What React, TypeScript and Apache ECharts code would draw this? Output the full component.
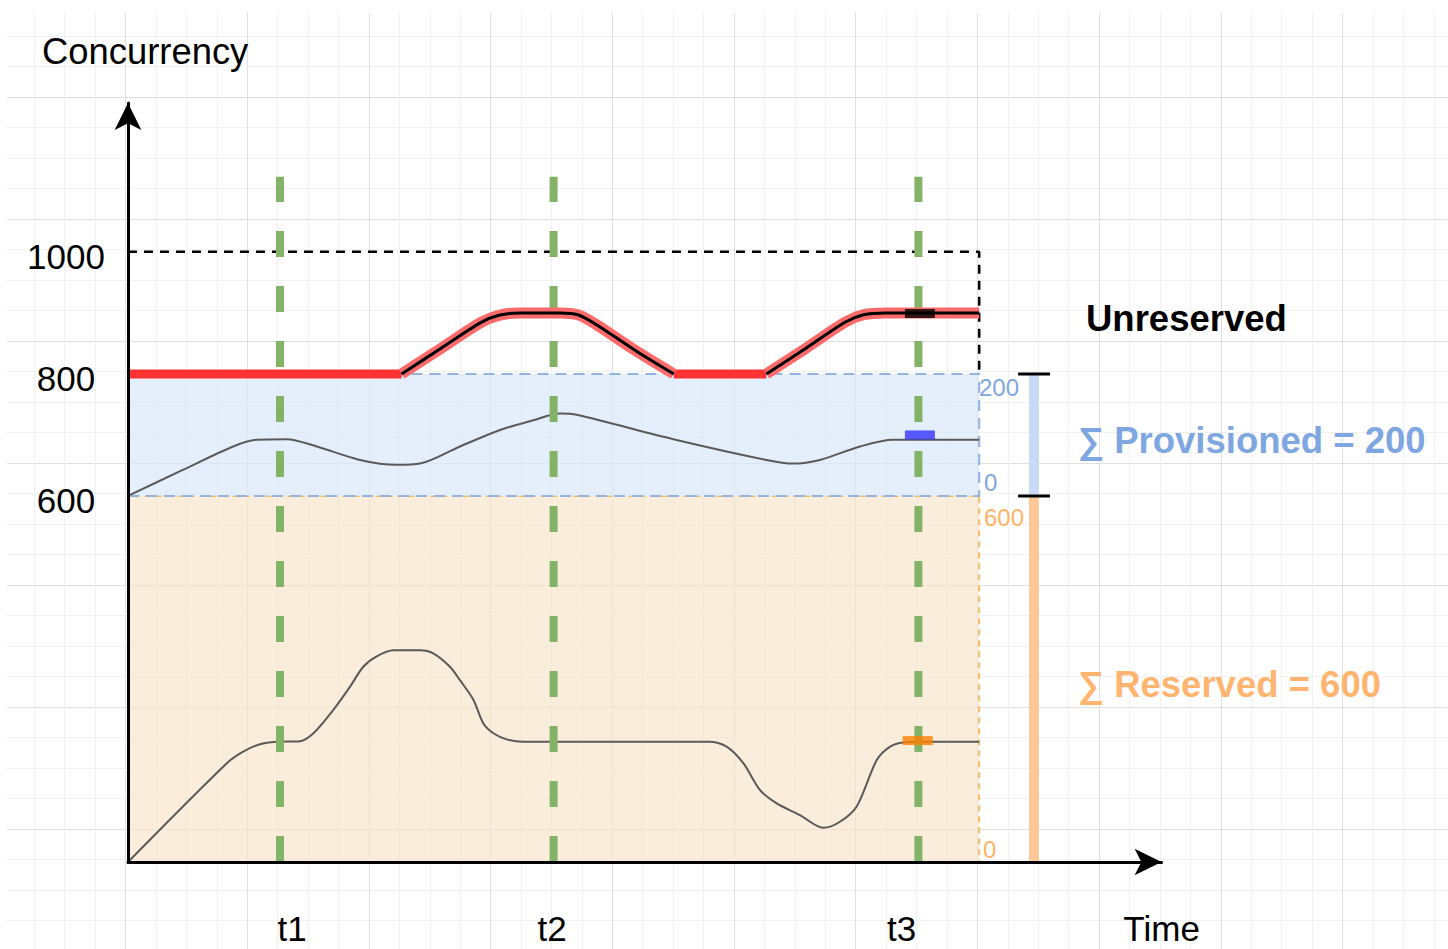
import React, { useEffect, useRef } from "react";
import * as echarts from "echarts";

// ---- data (x in time units, y in concurrency) ----
const yTickValues = [600, 800, 1000];
const timeMarks = [5, 14, 26]; // t1, t2, t3 dashed markers
const timeLabels = ["t1", "t2", "t3", "Time"];
const timeLabelX = [5.4, 13.95, 25.45, 34];
const concurrencyLimit = 1000;
const dataEnd = 28;
const reservedTotal = 600;
const provisionedTotal = 200;
const markerTop = 1123;

const totalFlat1 = [[0, 800], [9, 800]];
const totalFlat2 = [[17.95, 800], [21, 800]];
const totalCurve1 = [
  [9, 800], [10.3, 842], [11.6, 884], [12.2, 896], [12.9, 900], [14.2, 900],
  [14.8, 897], [15.4, 881], [16.7, 838], [17.95, 800],
];
const totalCurve2 = [
  [21, 800], [22.3, 842], [23.6, 885], [24.2, 897], [24.9, 900], [28, 900],
];
const provisionedUsage = [
  [0, 600], [1.82, 643], [3.46, 681], [4.23, 692], [5.22, 693], [6.21, 681],
  [7.63, 659], [8.84, 651], [9.61, 653], [10.92, 681], [12.24, 708], [13.33, 724],
  [14.21, 735], [14.76, 733], [17.94, 693], [21.0, 659], [21.88, 653], [22.76, 659],
  [24.08, 681], [25.17, 692], [28, 692],
];
const reservedUsage = [
  [0, 0], [3.25, 162], [3.79, 181], [4.34, 193], [4.89, 197], [5.66, 198],
  [6.1, 211], [6.75, 249], [7.3, 287], [7.74, 320], [8.18, 337], [8.73, 347],
  [9.61, 347], [10.04, 342], [10.59, 320], [10.92, 298], [11.36, 266], [11.69, 227],
  [12.02, 211], [12.46, 201], [13.0, 197], [19.1, 197], [19.69, 189], [20.24, 162],
  [20.79, 118], [21.34, 96], [22.1, 77], [22.87, 56], [23.42, 66], [23.97, 91],
  [24.63, 167], [25.07, 189], [25.5, 196], [26.2, 197], [28, 197],
];
const markerUnreserved = [26.05, 899];
const markerProvisioned = [26.05, 700];
const markerReserved = [25.98, 199];
const bracketX = 29.8;
const bracketTickFrom = 29.28;
const bracketTickTo = 30.33;

const FONT = '"Liberation Sans", Arial, Helvetica, sans-serif';

export default function App() {
  const ref = useRef<HTMLDivElement | null>(null);

  useEffect(() => {
    if (!ref.current) return;
    const chart = echarts.init(ref.current, undefined, { renderer: "svg" });

    const base = {
      type: "line",
      xAxisIndex: 0,
      yAxisIndex: 0,
      symbol: "none",
      silent: true,
      animation: false,
    };

    const greenSeries = timeMarks.map((t) => ({
      ...base,
      name: "mark-" + t,
      data: [[t, 0], [t, markerTop]],
      lineStyle: { color: "#82b366", width: 8, type: [26, 29], cap: "butt" },
      z: 4,
    }));

    const option: any = {
      animation: false,
      backgroundColor: "#ffffff",
      textStyle: { fontFamily: FONT },
      grid: [
        { left: 128, right: 1448 - 1161.6, top: 103, bottom: 87 },
        { left: 3.8, right: 0, top: -25, bottom: 0, outerBoundsMode: "none", containLabel: false },
      ],
      xAxis: [
        {
          type: "value",
          gridIndex: 0,
          min: 0,
          max: 34,
          z: 10,
          axisLine: {
            show: true,
            onZero: false,
            lineStyle: { color: "#000", width: 3 },
            symbol: ["none", "arrow"],
            symbolSize: [20, 27],
            symbolOffset: [0, 0],
          },
          axisTick: { show: false },
          splitLine: { show: false },
          axisLabel: {
            show: true,
            customValues: timeLabelX,
            formatter: (v: number) => {
              const i = timeLabelX.findIndex((x) => Math.abs(x - v) < 1e-6);
              return i >= 0 ? timeLabels[i] : "";
            },
            fontSize: 35,
            color: "#000",
            fontFamily: FONT,
            margin: 66,
            verticalAlign: "middle",
            showMinLabel: true,
            showMaxLabel: true,
          },
        },
        {
          type: "value",
          gridIndex: 1,
          min: 0,
          max: 1444.2,
          interval: 121.7,
          axisLine: { show: false },
          axisTick: { show: false },
          axisLabel: { show: false },
          splitLine: { show: true, lineStyle: { color: "#dfdfdf", width: 1 } },
          minorTick: { show: false, splitNumber: 4 },
          minorSplitLine: { show: true, lineStyle: { color: "#f1f1f1", width: 1 } },
        },
      ],
      yAxis: [
        {
          type: "value",
          gridIndex: 0,
          min: 0,
          max: 1244,
          z: 10,
          axisLine: {
            show: true,
            onZero: false,
            lineStyle: { color: "#000", width: 3 },
            symbol: ["none", "arrow"],
            symbolSize: [20, 27],
            symbolOffset: [0, 0],
          },
          axisTick: { show: false },
          splitLine: { show: false },
          axisLabel: {
            show: true,
            customValues: yTickValues,
            formatter: (v: number) => String(v),
            fontSize: 35,
            color: "#000",
            fontFamily: FONT,
            margin: 62,
            align: "center",
            verticalAlign: "top",
            lineHeight: 10,
          },
        },
        {
          type: "value",
          gridIndex: 1,
          inverse: true,
          min: 0,
          max: 974,
          interval: 122,
          axisLine: { show: false },
          axisTick: { show: false },
          axisLabel: { show: false },
          splitLine: { show: true, lineStyle: { color: "#dfdfdf", width: 1 } },
          minorTick: { show: false, splitNumber: 4 },
          minorSplitLine: { show: true, lineStyle: { color: "#f1f1f1", width: 1 } },
        },
      ],
      graphic: [
        { type: "rect", z: 1, shape: { x: 0, y: 0, width: 7, height: 949 }, style: { fill: "#fff" } },
        { type: "rect", z: 1, shape: { x: 0, y: 0, width: 1448, height: 13 }, style: { fill: "#fff" } },
        {
          type: "text", z: 20, x: 42, y: 51,
          style: { text: "Concurrency", fontSize: 36.4, fontFamily: FONT, fill: "#000", align: "left", verticalAlign: "middle" },
        },
        {
          type: "text", z: 20, x: 1086, y: 318,
          style: { text: "Unreserved", fontSize: 36.5, fontWeight: "bold", fontFamily: FONT, fill: "#000", align: "left", verticalAlign: "middle" },
        },
        {
          type: "text", z: 20, x: 1078, y: 440,
          style: { text: "∑ Provisioned = 200", fontSize: 36.5, fontWeight: "bold", fontFamily: FONT, fill: "#7ea6e0", align: "left", verticalAlign: "middle" },
        },
        {
          type: "text", z: 20, x: 1078, y: 684,
          style: { text: "∑ Reserved = 600", fontSize: 36.5, fontWeight: "bold", fontFamily: FONT, fill: "#ffb570", align: "left", verticalAlign: "middle" },
        },
        {
          type: "text", z: 20, x: 979, y: 387,
          style: { text: String(provisionedTotal), fontSize: 24, fontFamily: FONT, fill: "#7ea6e0", align: "left", verticalAlign: "middle" },
        },
        {
          type: "text", z: 20, x: 984, y: 482,
          style: { text: "0", fontSize: 24, fontFamily: FONT, fill: "#7ea6e0", align: "left", verticalAlign: "middle" },
        },
        {
          type: "text", z: 20, x: 984, y: 517,
          style: { text: String(reservedTotal), fontSize: 24, fontFamily: FONT, fill: "#ffb366", align: "left", verticalAlign: "middle" },
        },
        {
          type: "text", z: 20, x: 983, y: 849,
          style: { text: "0", fontSize: 24, fontFamily: FONT, fill: "#ffb366", align: "left", verticalAlign: "middle" },
        },
      ],
      series: [
        {
          ...base,
          name: "reservedBox",
          data: [[0, 0]],
          lineStyle: { width: 0 },
          z: 2,
          markArea: {
            silent: true,
            label: { show: false },
            itemStyle: { color: "rgba(248,228,200,0.65)", borderColor: "#eebf68", borderWidth: 2, borderType: [6, 5] },
            data: [[{ coord: [0, 0] }, { coord: [dataEnd, reservedTotal] }]],
          },
        },
        {
          ...base,
          name: "provisionedBox",
          data: [[0, reservedTotal]],
          lineStyle: { width: 0 },
          z: 2,
          markArea: {
            silent: true,
            label: { show: false },
            itemStyle: { color: "rgba(218,232,250,0.7)", borderColor: "#93b2df", borderWidth: 2, borderType: [11, 7] },
            data: [[{ coord: [0, reservedTotal] }, { coord: [dataEnd, reservedTotal + provisionedTotal] }]],
          },
        },
        {
          ...base,
          name: "limit",
          data: [[0, concurrencyLimit], [dataEnd, concurrencyLimit], [dataEnd, reservedTotal + provisionedTotal]],
          lineStyle: { color: "#000", width: 2.5, type: [9, 7] },
          z: 3,
        },
        {
          ...base,
          name: "reservedUsage",
          data: reservedUsage,
          smooth: 0.3,
          lineStyle: { color: "#5a5a5a", width: 2 },
          z: 3,
        },
        {
          ...base,
          name: "provisionedUsage",
          data: provisionedUsage,
          smooth: 0.3,
          lineStyle: { color: "#5a5a5a", width: 2 },
          z: 3,
        },
        ...greenSeries,
        {
          ...base,
          name: "flat1",
          data: totalFlat1,
          lineStyle: { color: "#ff3333", width: 9 },
          z: 5,
        },
        {
          ...base,
          name: "flat2",
          data: totalFlat2,
          lineStyle: { color: "#ff3333", width: 9 },
          z: 5,
        },
        {
          ...base,
          name: "curve1Band",
          data: totalCurve1,
          smooth: 0.3,
          lineStyle: { color: "#ff6b6b", width: 11 },
          z: 5,
        },
        {
          ...base,
          name: "curve2Band",
          data: totalCurve2,
          smooth: 0.3,
          lineStyle: { color: "#ff6b6b", width: 11 },
          z: 5,
        },
        {
          ...base,
          name: "curve1",
          data: totalCurve1,
          smooth: 0.3,
          lineStyle: { color: "#000", width: 3 },
          z: 6,
        },
        {
          ...base,
          name: "curve2",
          data: totalCurve2,
          smooth: 0.3,
          lineStyle: { color: "#000", width: 3 },
          z: 6,
        },
        {
          ...base,
          name: "bracketProvisioned",
          data: [[bracketX, reservedTotal + provisionedTotal], [bracketX, reservedTotal]],
          lineStyle: { color: "#c8daf5", width: 10 },
          z: 3,
        },
        {
          ...base,
          name: "bracketReserved",
          data: [[bracketX, reservedTotal], [bracketX, 0]],
          lineStyle: { color: "#ffc896", width: 10 },
          z: 3,
        },
        {
          ...base,
          name: "bracketTop",
          data: [[bracketTickFrom, reservedTotal + provisionedTotal], [bracketTickTo, reservedTotal + provisionedTotal]],
          lineStyle: { color: "#000", width: 3 },
          z: 4,
        },
        {
          ...base,
          name: "bracketMid",
          data: [[bracketTickFrom, reservedTotal], [bracketTickTo, reservedTotal]],
          lineStyle: { color: "#000", width: 3 },
          z: 4,
        },
        {
          type: "scatter",
          name: "markers",
          xAxisIndex: 0,
          yAxisIndex: 0,
          silent: true,
          symbol: "rect",
          symbolSize: [30, 9],
          z: 8,
          data: [
            { value: markerUnreserved, itemStyle: { color: "#000000" } },
            { value: markerProvisioned, itemStyle: { color: "#3333ff" } },
            { value: markerReserved, itemStyle: { color: "#ff8000" } },
          ],
        },
      ],
    };

    chart.setOption(option);
    return () => chart.dispose();
  }, []);

  return (
    <div
      ref={ref}
      style={{ position: "fixed", left: 0, top: 0, width: 1448, height: 949, background: "#fff" }}
    />
  );
}
